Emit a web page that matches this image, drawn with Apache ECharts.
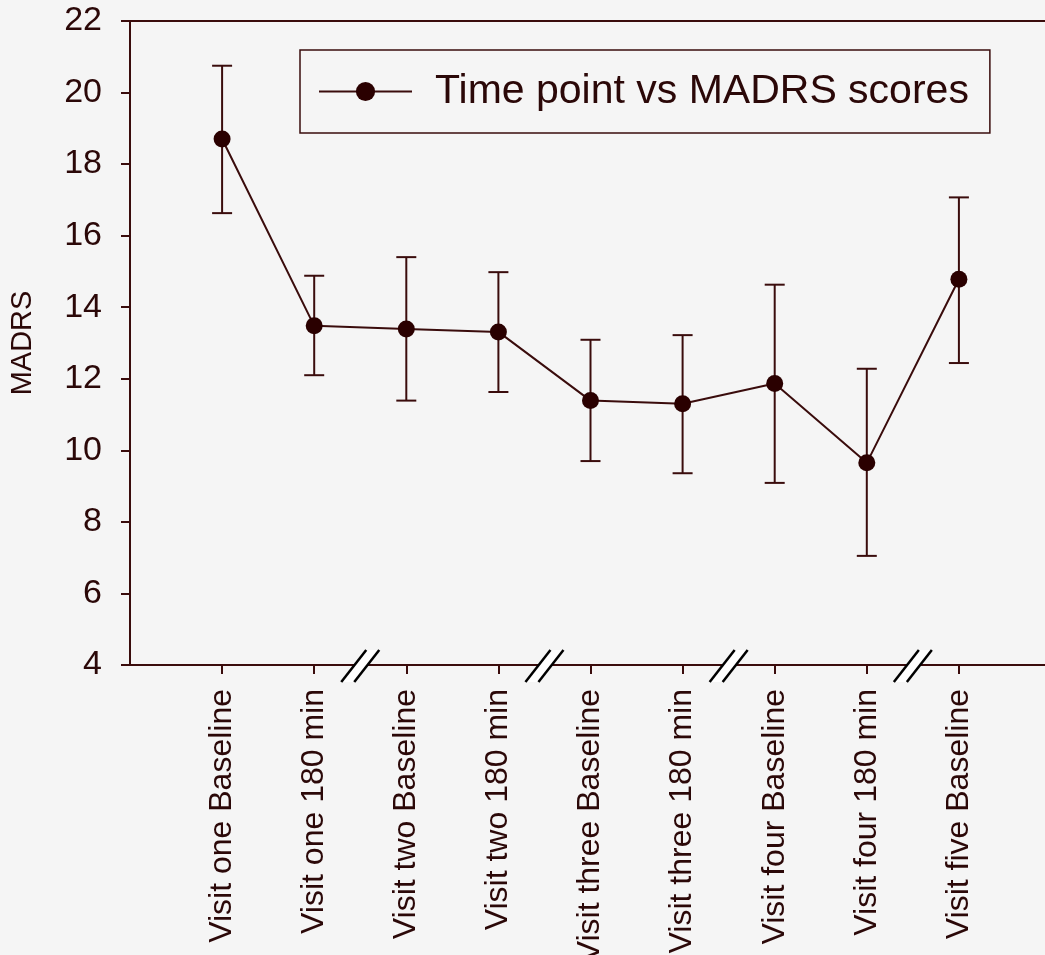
<!DOCTYPE html>
<html>
<head>
<meta charset="utf-8">
<script src="https://cdn.jsdelivr.net/npm/echarts@6/dist/echarts.min.js"></script>
<style>
  html, body { margin: 0; padding: 0; background: #f5f5f5; }
  #chart { width: 1045px; height: 955px; }
</style>
</head>
<body>
<div id="chart"></div>
<script>
// ---- data ----
const categories = ['Visit one Baseline', 'Visit one 180 min', 'Visit two Baseline', 'Visit two 180 min',
  'Visit three Baseline', 'Visit three 180 min', 'Visit four Baseline', 'Visit four 180 min', 'Visit five Baseline'];
const means = [18.7, 13.48, 13.39, 13.31, 11.39, 11.3, 11.87, 9.65, 14.78];
const upper = [20.75, 14.88, 15.4, 14.98, 13.09, 13.22, 14.63, 12.28, 17.07];
const lower = [16.63, 12.1, 11.39, 11.63, 9.7, 9.36, 9.09, 7.05, 12.44];
const yTicks = [4, 6, 8, 10, 12, 14, 16, 18, 20, 22];
const breakAfter = [2, 4, 6, 8]; // axis breaks placed between category k and k+1
const seriesName = 'Time point vs MADRS scores';
const yAxisName = 'MADRS';

// ---- styling ----
const INK = '#3a0c0c';
const DOT = '#2a0000';
const TEXT = '#2b0808';
const FONT = '"Liberation Sans", Arial, sans-serif';

const xPos = categories.map((c, i) => i + 1);
const lineData = means.map((m, i) => [xPos[i], m]);
const errData = means.map((m, i) => [xPos[i], lower[i], upper[i]]);
const breakData = breakAfter.map(k => [k + 0.5, yTicks[0]]);

const chart = echarts.init(document.getElementById('chart'));
chart.setOption({
  backgroundColor: '#f5f5f5',
  animation: false,
  grid: { left: 130, right: -6, top: 21, bottom: 290, outerBoundsMode: 'none', containLabel: false },
  legend: {
    data: [seriesName],
    left: 300, top: 50,
    borderColor: INK, borderWidth: 1.5,
    padding: [21, 21, 21, 18],
    itemWidth: 93, itemHeight: 24,
    textStyle: { fontSize: 41, color: TEXT, fontFamily: FONT, padding: [0, 0, 0, 18] }
  },
  xAxis: [{
    type: 'value', min: 0, max: 10, interval: 1,
    splitLine: { show: false },
    axisLine: { lineStyle: { color: INK, width: 2 } },
    axisTick: { length: 9, lineStyle: { color: INK, width: 2 }, customValues: xPos },
    axisLabel: {
      customValues: xPos, rotate: 90, margin: 24, fontSize: 32, color: TEXT, fontFamily: FONT,
      formatter: v => categories[Math.round(v) - 1] || ''
    }
  }, {
    type: 'value', min: 0, max: 10, position: 'top',
    splitLine: { show: false },
    axisLine: { show: true, lineStyle: { color: INK, width: 2 } },
    axisTick: { show: false }, axisLabel: { show: false }
  }],
  yAxis: {
    type: 'value', min: 4, max: 22, interval: 2,
    splitLine: { show: false },
    axisLine: { show: true, lineStyle: { color: INK, width: 2 } },
    axisTick: { show: true, length: 9, lineStyle: { color: INK, width: 2 } },
    axisLabel: { fontSize: 34, color: TEXT, fontFamily: FONT, margin: 28 },
    name: yAxisName, nameLocation: 'middle', nameRotate: 90, nameGap: 93,
    nameTextStyle: { fontSize: 29, color: TEXT, fontFamily: FONT }
  },
  series: [{
    type: 'custom', name: 'err', z: 2, clip: false,
    data: errData,
    renderItem: function (params, api) {
      const x = api.value(0);
      const lo = api.coord([x, api.value(1)]);
      const hi = api.coord([x, api.value(2)]);
      const hw = 10;
      const st = { stroke: INK, lineWidth: 2 };
      return {
        type: 'group', children: [
          { type: 'line', shape: { x1: lo[0], y1: lo[1], x2: hi[0], y2: hi[1] }, style: st },
          { type: 'line', shape: { x1: hi[0] - hw, y1: hi[1], x2: hi[0] + hw, y2: hi[1] }, style: st },
          { type: 'line', shape: { x1: lo[0] - hw, y1: lo[1], x2: lo[0] + hw, y2: lo[1] }, style: st }
        ]
      };
    }
  }, {
    type: 'line', name: seriesName, z: 3,
    data: lineData,
    symbol: 'circle', symbolSize: 17,
    lineStyle: { color: INK, width: 2 },
    itemStyle: { color: DOT },
    emphasis: { disabled: true }
  }, {
    type: 'custom', name: 'breaks', z: 5, clip: false, silent: true,
    data: breakData,
    renderItem: function (params, api) {
      const c = api.coord([api.value(0), api.value(1)]);
      const cx = c[0], cy = c[1];
      return {
        type: 'group', children: [
          { type: 'polygon', shape: { points: [[cx - 19, cy + 17], [cx + 6, cy - 15], [cx + 19, cy - 15], [cx - 6, cy + 17]] },
            style: { fill: '#ffffff' } },
          { type: 'line', shape: { x1: cx - 19, y1: cy + 17, x2: cx + 6, y2: cy - 15 }, style: { stroke: '#000000', lineWidth: 2.5 } },
          { type: 'line', shape: { x1: cx - 6, y1: cy + 17, x2: cx + 19, y2: cy - 15 }, style: { stroke: '#000000', lineWidth: 2.5 } }
        ]
      };
    }
  }]
});
</script>
</body>
</html>
